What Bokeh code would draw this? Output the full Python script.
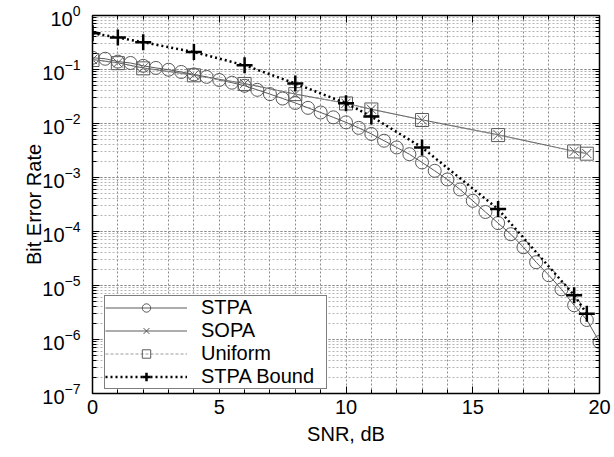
from bokeh.plotting import figure
from bokeh.models import (LinearAxis, LogAxis, SingleIntervalTicker, LogTicker,
                          Legend, LegendItem, Range1d)
from bokeh.embed import file_html
from bokeh.resources import INLINE

# ---------------- data ----------------
stpa_snr = [0, 0.5, 1, 1.5, 2, 2.5, 3, 3.5, 4, 4.5, 5, 5.5, 6, 6.5, 7, 7.5, 8, 8.5,
            9, 9.5, 10, 10.5, 11, 11.5, 12, 12.5, 13, 13.5, 14, 14.5, 15, 15.5, 16,
            16.5, 17, 17.5, 18, 18.5, 19, 19.5, 20]
stpa_ber = [0.165, 0.158, 0.14, 0.132, 0.117, 0.107, 0.099, 0.090, 0.081, 0.073,
            0.064, 0.057, 0.050, 0.042, 0.035, 0.029, 0.024, 0.0195, 0.016, 0.013,
            0.0105, 0.0083, 0.0064, 0.0048, 0.0036, 0.0027, 0.0019, 0.00133, 0.00092,
            0.00060, 0.00037, 0.00023, 0.000143, 8.9e-5, 5.1e-5, 2.7e-5, 1.55e-5,
            8.5e-6, 4.3e-6, 2.3e-6, 9.0e-7]

snr_pts = [0, 1, 2, 4, 6, 8, 10, 11, 13, 16, 19, 19.5]
sopa_ber = [0.153, 0.133, 0.107, 0.079, 0.055, 0.035, 0.0237, 0.0184, 0.0117, 0.0062,
            0.00306, 0.00277]
uniform_ber = [0.150, 0.131, 0.105, 0.078, 0.054, 0.035, 0.0235, 0.0182, 0.0116,
               0.0061, 0.00304, 0.00276]
bound_ber = [0.47, 0.39, 0.32, 0.21, 0.12, 0.055, 0.0237, 0.0135, 0.0036, 2.6e-4,
             6.6e-6, 3.0e-6]

x_label = "SNR, dB"
y_label = "Bit Error Rate"
series_names = ["STPA", "SOPA", "Uniform", "STPA Bound"]

FONT = "Liberation Sans"

p = figure(width=614, height=457, x_range=Range1d(0, 20), y_range=Range1d(1e-7, 1),
           y_axis_type="log", output_backend="svg", toolbar_location=None,
           min_border_left=92, min_border_right=15, min_border_top=15,
           min_border_bottom=64, background_fill_color="white",
           border_fill_color="white")

p.outline_line_color = "black"
p.outline_line_width = 1.5

# axes
xa = p.xaxis[0]
xa.ticker = SingleIntervalTicker(interval=5, num_minor_ticks=5)
ya = p.yaxis[0]
ya.ticker = LogTicker(num_minor_ticks=10)
for ax in (xa, ya):
    ax.major_tick_in = 7
    ax.major_tick_out = 0
    ax.minor_tick_in = 4
    ax.minor_tick_out = 0
    ax.axis_line_color = "black"
    ax.major_label_text_font = FONT
    ax.major_label_text_font_size = "20px"
    ax.major_label_text_color = "black"
    ax.axis_label_text_font = FONT
    ax.axis_label_text_font_size = "20px"
    ax.axis_label_text_font_style = "normal"
    ax.axis_label_text_color = "black"
xa.axis_label = x_label
ya.axis_label = y_label
xa.major_label_standoff = 6
xa.axis_label_standoff = 6
ya.major_label_standoff = 12
ya.axis_label_standoff = -6

# right / top axes with ticks only (labels invisible)
ra = LogAxis(ticker=LogTicker(num_minor_ticks=10), major_tick_in=7, major_tick_out=0,
             minor_tick_in=4, minor_tick_out=0, major_label_text_font_size="1px",
             major_label_text_alpha=0, major_label_standoff=0, axis_line_color="black")
ta = LinearAxis(ticker=SingleIntervalTicker(interval=5, num_minor_ticks=5),
                major_tick_in=7, major_tick_out=0, minor_tick_in=4, minor_tick_out=0,
                major_label_text_font_size="1px", major_label_text_alpha=0,
                major_label_standoff=0, axis_line_color="black")
p.add_layout(ra, "right")
p.add_layout(ta, "above")

# grids
p.xgrid.ticker = SingleIntervalTicker(interval=1)
p.xgrid.grid_line_color = "#8c8c8c"
p.xgrid.grid_line_dash = "2 2"
p.xgrid.grid_line_width = 1
p.ygrid.grid_line_color = "#8c8c8c"
p.ygrid.grid_line_dash = "2 2"
p.ygrid.minor_grid_line_color = "#b4b4b4"
p.ygrid.minor_grid_line_dash = "2 2"

GRAY = "#5a5a5a"

l1 = p.line(stpa_snr, stpa_ber, line_color=GRAY, line_width=1)
m1 = p.scatter(stpa_snr, stpa_ber, marker="circle", size=13, line_color=GRAY,
               fill_color=None, line_width=1)
l2 = p.line(snr_pts, sopa_ber, line_color=GRAY, line_width=1)
m2 = p.scatter(snr_pts, sopa_ber, marker="x", size=13, line_color=GRAY, line_width=1)
l3 = p.line(snr_pts, uniform_ber, line_color="#9a9a9a", line_width=1, line_dash="3 2")
m3 = p.scatter(snr_pts, uniform_ber, marker="square", size=13, line_color=GRAY,
               fill_color=None, line_width=1)
l4 = p.line(snr_pts, bound_ber, line_color="black", line_width=2.5, line_dash="2 3")
m4 = p.scatter(snr_pts, bound_ber, marker="cross", size=16, line_color="black",
               line_width=2.5)

legend = Legend(items=[
    LegendItem(label=series_names[0], renderers=[l1, m1]),
    LegendItem(label=series_names[1], renderers=[l2, m2]),
    LegendItem(label=series_names[2], renderers=[l3, m3]),
    LegendItem(label=series_names[3], renderers=[l4, m4]),
], location=(12, 4))
legend.margin = 0
legend.padding = 0
legend.spacing = 0
legend.glyph_width = 82
legend.glyph_height = 21
legend.label_height = 21
legend.label_width = 125
legend.label_standoff = 14
legend.label_text_font = FONT
legend.label_text_font_size = "20px"
legend.label_text_color = "black"
legend.border_line_color = "black"
legend.border_line_width = 1.5
legend.background_fill_color = "white"
legend.background_fill_alpha = 1
p.add_layout(legend, "center")

open("out.html", "w").write(file_html(p, INLINE))
